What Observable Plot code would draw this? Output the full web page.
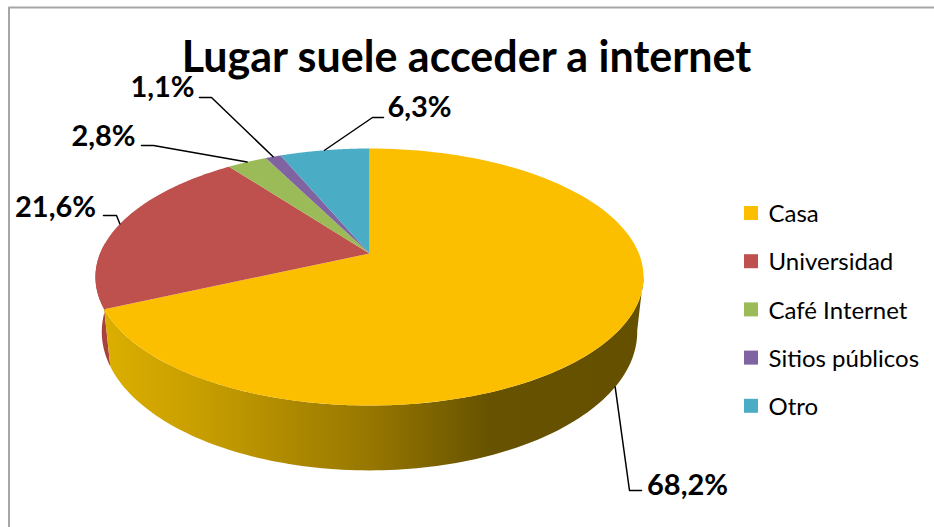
<!DOCTYPE html>
<html><head><meta charset="utf-8">
<script src="https://cdn.jsdelivr.net/npm/d3@7"></script>
<script src="https://cdn.jsdelivr.net/npm/@observablehq/plot@0.6"></script>
<style>html,body{margin:0;padding:0;background:#fff}svg{display:block}</style>
</head><body><div id="chart"></div>
<script>
// Data
const categories = ["Casa", "Universidad", "Café Internet", "Sitios públicos", "Otro"];
const shares = [68.2, 21.6, 2.8, 1.1, 6.3];
const labels = ["68,2%", "21,6%", "2,8%", "1,1%", "6,3%"];
const colors = ["#FCBF00", "#BE504D", "#9BBB59", "#8064A2", "#4BACC6"];
const titleText = "Lugar suele acceder a internet";

// Perspective pie geometry
const cx = 369, cy = 253, X = 269.4, A = 77.9, k = 0.183, D0 = 53, shrink = 0.977;
const top3d = t => {
  const a = t * Math.PI / 180, u = Math.sin(a), v = -Math.cos(a), w = 1 - k * v;
  return [cx + X * u / w, (cy + A * v) / w];
};
const low3d = t => {
  const a = t * Math.PI / 180, v = -Math.cos(a), w = 1 - k * v, p = top3d(t);
  return [cx + (p[0] - cx) * shrink, p[1] + D0 / w];
};
const arc = (f, t0, t1) => d3.range(0, 121).map(i => f(t0 + (t1 - t0) * i / 120));

let acc = 0;
const slices = shares.map((s, i) => {
  const t0 = acc * 3.6; acc += s; const t1 = acc * 3.6;
  return {i, t0, t1, mid: (t0 + t1) / 2};
});
const topPolys = slices.flatMap(s =>
  [[cx, cy], ...arc(top3d, s.t0, s.t1)].map(([x, y]) => ({x, y, z: s.i, c: colors[s.i]})));
const casaEnd = slices[0].t1;
const sidePoly = (t0, t1) => [...arc(top3d, t0, t1), ...arc(low3d, t0, t1).reverse()].map(([x, y]) => ({x, y}));
const casaSide = sidePoly(100, casaEnd);
const uniSide = sidePoly(casaEnd, 275);

// Leader lines: rim point of each slice, elbow, label end
const elbows = [[[629, 490], [641, 490]], [[116, 215], [103, 215]], [[153, 145], [141, 145]], [[211, 97], [199, 97]], [[372, 117], [383, 117]]];
const leaders = slices.flatMap(s => {
  const start = s.i === 0 ? low3d(s.mid) : top3d(s.mid);
  return [start, ...elbows[s.i]].map(([x, y]) => ({x, y, z: s.i}));
});
const labelPos = [[687, 485], [55, 207], [103, 136], [162, 87], [419, 107]];
const labelRows = labels.map((t, i) => ({t, x: labelPos[i][0], y: labelPos[i][1]}));
const legendRows = categories.map((c, i) => ({c, i, y: 213 + i * 48.2}));
const frameLine = [[8.5, 527], [8.5, 7], [934, 7]].map(([x, y]) => ({x, y}));

const defs = () => {
  const d = d3.create("svg:defs");
  const g = d.append("linearGradient").attr("id", "casaSide").attr("gradientUnits", "userSpaceOnUse")
    .attr("x1", 105).attr("x2", 640).attr("y1", 0).attr("y2", 0);
  [[0, "#DCAE00"], [0.18, "#C79E00"], [0.5, "#967600"], [0.72, "#665200"], [1, "#655000"]]
    .forEach(([o, c]) => g.append("stop").attr("offset", o).attr("stop-color", c));
  return d.node();
};

const fixed = {x: {domain: [0, 934], range: [0, 934], axis: null}, y: {domain: [0, 527], range: [0, 527], axis: null}};
const chart = Plot.plot({
  width: 934, height: 527, margin: 0, ...fixed,
  style: {background: "#fff", fontFamily: "Lato"},
  marks: [
    defs,
    Plot.line(frameLine, {x: "x", y: "y", stroke: "#A6A6A6", strokeWidth: 2, curve: "linear"}),
    Plot.line(uniSide, {x: "x", y: "y", fill: "#A8423F", stroke: "none", curve: "linear-closed"}),
    Plot.line(casaSide, {x: "x", y: "y", fill: "url(#casaSide)", stroke: "none", curve: "linear-closed"}),
    Plot.line(topPolys, {x: "x", y: "y", z: "z", fill: "c", stroke: "none", curve: "linear-closed"}),
    Plot.line(leaders, {x: "x", y: "y", z: "z", stroke: "#000", strokeWidth: 1.5, curve: "linear"}),
    Plot.text(labelRows, {x: "x", y: "y", text: "t", fontSize: 29, fontWeight: 700, fill: "#000", textAnchor: "middle", lineAnchor: "middle"}),
    Plot.text([titleText], {x: () => 466, y: () => 58, text: d => d, fontSize: 43, fontWeight: 700, fill: "#000", textAnchor: "middle", lineAnchor: "middle"}),
    Plot.rect(legendRows, {x1: () => 744, x2: () => 758, y1: d => d.y - 7, y2: d => d.y + 7, fill: d => colors[d.i]}),
    Plot.text(legendRows, {x: () => 768, y: d => d.y + 1, text: "c", fontSize: 24, fill: "#000", textAnchor: "start", lineAnchor: "middle"})
  ]
});
document.getElementById("chart").append(chart);
</script></body></html>
